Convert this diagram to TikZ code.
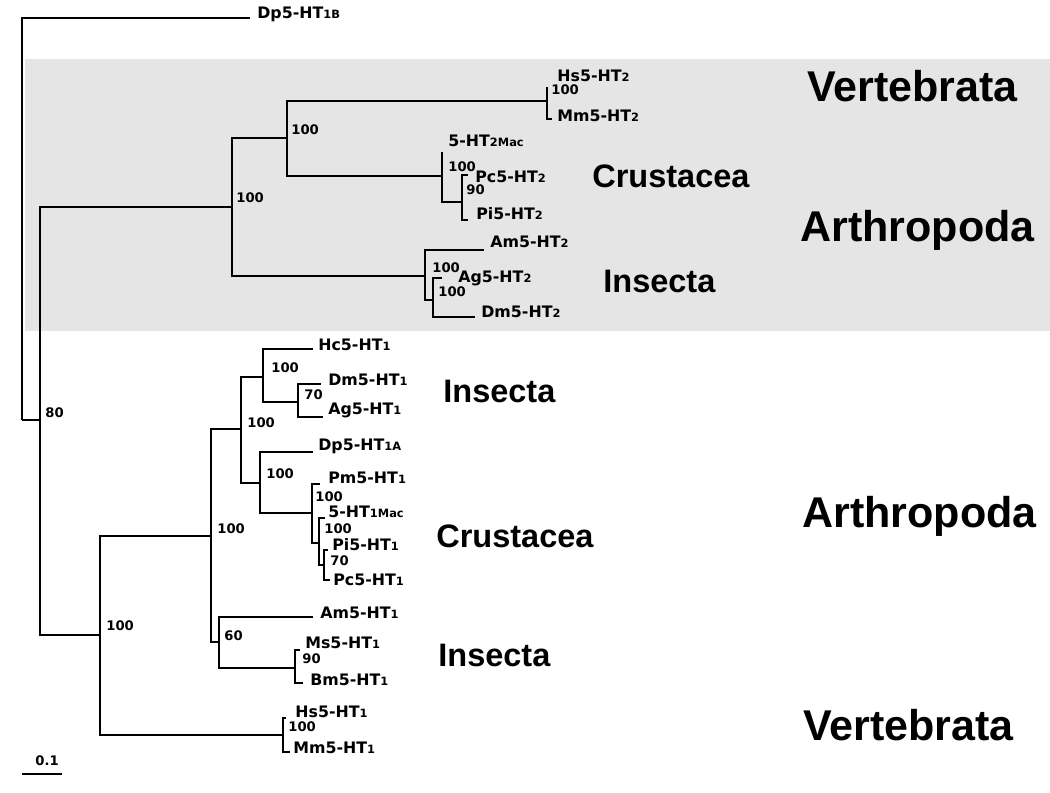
\documentclass[tikz,border=0pt]{standalone}
\usepackage{fontspec}
\setmainfont{Liberation Sans}
\newfontfamily\treefont{DejaVu Sans}
\usepackage{xcolor}
\definecolor{bandgray}{RGB}{229,229,229}
\usetikzlibrary{positioning}
\newcommand{\subp}[1]{{\fontsize{6.5}{6.5}\selectfont #1}}

\begin{document}
\begin{tikzpicture}[
  x=0.02cm, y=-0.02cm,
  branch/.style={line width=1.3pt, line join=miter},
  leaf/.style={anchor=base west, inner sep=0pt,
               font=\treefont\bfseries\fontsize{9}{10}\selectfont},
  boot/.style={anchor=base west, inner sep=0pt,
               font=\treefont\bfseries\fontsize{7.5}{9}\selectfont},
  taxon/.style={anchor=base west, inner sep=0pt,
                font=\bfseries\fontsize{18.5}{22}\selectfont},
  bigtaxon/.style={anchor=base west, inner sep=0pt,
                   font=\bfseries\fontsize{24.5}{28}\selectfont},
]
  \useasboundingbox (0,0) rectangle (1050,793);
  \fill[bandgray] (25,59) rectangle (1050,331);

  % internal nodes
  \coordinate (R) at (22,420);
  \coordinate (A) at (40,420);
  \coordinate (B) at (232,207);
  \coordinate (D) at (287,138);
  \coordinate (F) at (547,101);
  \coordinate (G) at (442,176);
  \coordinate (H) at (462,202);
  \coordinate (E) at (425,276);
  \coordinate (I) at (433,300);
  \coordinate (C) at (100,635);
  \coordinate (J) at (211,536);
  \coordinate (L) at (241,429);
  \coordinate (N) at (263,377);
  \coordinate (P) at (298,402);
  \coordinate (O) at (260,483);
  \coordinate (Q) at (312,513);
  \coordinate (S) at (319,543);
  \coordinate (T) at (324,565);
  \coordinate (M) at (219,642);
  \coordinate (U) at (295,668);
  \coordinate (K) at (283,735);

  % tip ends
  \coordinate (dp1bt) at (250,18);
  \coordinate (hs2t) at (547,87);
  \coordinate (mm2t) at (552,119);
  \coordinate (mac2t) at (442,152);
  \coordinate (pc2t) at (468,175);
  \coordinate (pi2t) at (468,220);
  \coordinate (am2t) at (484,250);
  \coordinate (ag2t) at (442,278);
  \coordinate (dm2t) at (475,317);
  \coordinate (hc1t) at (313,349);
  \coordinate (dm1t) at (321,384);
  \coordinate (ag1t) at (323,417);
  \coordinate (dp1at) at (313,452);
  \coordinate (pm1t) at (320,484);
  \coordinate (mac1t) at (325,518);
  \coordinate (pi1t) at (328,550);
  \coordinate (pc1t) at (330,580);
  \coordinate (am1t) at (313,617);
  \coordinate (ms1t) at (300,650);
  \coordinate (bm1t) at (303,683);
  \coordinate (hs1t) at (286,718);
  \coordinate (mm1t) at (290,752);

  % branches
  \draw[branch] (R) |- (dp1bt) (R) -- (A);
  \draw[branch] (A) |- (B) (A) |- (C);
  \draw[branch] (B) |- (D) (B) |- (E);
  \draw[branch] (D) |- (F) (D) |- (G);
  \draw[branch] (F) |- (hs2t) (F) |- (mm2t);
  \draw[branch] (G) |- (mac2t) (G) |- (H);
  \draw[branch] (H) |- (pc2t) (H) |- (pi2t);
  \draw[branch] (E) |- (am2t) (E) |- (I);
  \draw[branch] (I) |- (ag2t) (I) |- (dm2t);
  \draw[branch] (C) |- (J) (C) |- (K);
  \draw[branch] (J) |- (L) (J) |- (M);
  \draw[branch] (L) |- (N) (L) |- (O);
  \draw[branch] (N) |- (hc1t) (N) |- (P);
  \draw[branch] (P) |- (dm1t) (P) |- (ag1t);
  \draw[branch] (O) |- (dp1at) (O) |- (Q);
  \draw[branch] (Q) |- (pm1t) (Q) |- (S);
  \draw[branch] (S) |- (mac1t) (S) |- (T);
  \draw[branch] (T) |- (pi1t) (T) |- (pc1t);
  \draw[branch] (M) |- (am1t) (M) |- (U);
  \draw[branch] (U) |- (ms1t) (U) |- (bm1t);
  \draw[branch] (K) |- (hs1t) (K) |- (mm1t);

  % tip labels
  \node[leaf] (dp1b) at (257,19) {Dp5-HT\subp{1B}};
  \node[leaf] (hs2) at (557,82) {Hs5-HT\subp{2}};
  \node[leaf] (mm2) at (557,122) {Mm5-HT\subp{2}};
  \node[leaf] (mac2) at (448,147) {5-HT\subp{2Mac}};
  \node[leaf] (pc2) at (475,183) {Pc5-HT\subp{2}};
  \node[leaf] (pi2) at (476,220) {Pi5-HT\subp{2}};
  \node[leaf] (am2) at (490,248) {Am5-HT\subp{2}};
  \node[leaf] (ag2) at (458,283) {Ag5-HT\subp{2}};
  \node[leaf] (dm2) at (481,318) {Dm5-HT\subp{2}};
  \node[leaf] (hc1) at (318,351) {Hc5-HT\subp{1}};
  \node[leaf] (dm1) at (328,385) {Dm5-HT\subp{1}};
  \node[leaf] (ag1) at (328,414) {Ag5-HT\subp{1}};
  \node[leaf] (dp1a) at (318,450) {Dp5-HT\subp{1A}};
  \node[leaf] (pm1) at (328,483) {Pm5-HT\subp{1}};
  \node[leaf] (mac1) at (328,517) {5-HT\subp{1Mac}};
  \node[leaf] (pi1) at (332,550) {Pi5-HT\subp{1}};
  \node[leaf] (pc1) at (333,585) {Pc5-HT\subp{1}};
  \node[leaf] (am1) at (320,618) {Am5-HT\subp{1}};
  \node[leaf] (ms1) at (305,648) {Ms5-HT\subp{1}};
  \node[leaf] (bm1) at (310,685) {Bm5-HT\subp{1}};
  \node[leaf] (hs1) at (295,717) {Hs5-HT\subp{1}};
  \node[leaf] (mm1) at (293,753) {Mm5-HT\subp{1}};

  % bootstrap values
  \node[boot] (bA) at (45,417) {80};
  \node[boot] (bB) at (236,203) {100};
  \node[boot] (bD) at (291,135) {100};
  \node[boot] (bF) at (551,95) {100};
  \node[boot] (bG) at (448,172) {100};
  \node[boot] (bH) at (466,195) {90};
  \node[boot] (bE) at (432,273) {100};
  \node[boot] (bI) at (438,297) {100};
  \node[boot] (bC) at (106,630) {100};
  \node[boot] (bJ) at (217,533) {100};
  \node[boot] (bL) at (247,427) {100};
  \node[boot] (bN) at (271,373) {100};
  \node[boot] (bP) at (304,399) {70};
  \node[boot] (bO) at (266,478) {100};
  \node[boot] (bQ) at (315,501) {100};
  \node[boot] (bS) at (324,533) {100};
  \node[boot] (bT) at (330,565) {70};
  \node[boot] (bM) at (224,640) {60};
  \node[boot] (bU) at (302,663) {90};
  \node[boot] (bK) at (288,731) {100};

  % group names
  \node[bigtaxon] (vert2) at (807,102) {Vertebrata};
  \node[bigtaxon] (arth2) at (800,242) {Arthropoda};
  \node[taxon] (crus2) at (592,188) {Crustacea};
  \node[taxon] (ins2) at (603,293) {Insecta};
  \node[taxon] (ins1a) at (443,402) {Insecta};
  \node[taxon] (crus1) at (436,547) {Crustacea};
  \node[bigtaxon] (arth1) at (802,527) {Arthropoda};
  \node[taxon] (ins1b) at (438,666) {Insecta};
  \node[bigtaxon] (vert1) at (803,740) {Vertebrata};

  % scale bar
  \coordinate (sb0) at (22,774);
  \coordinate (sb1) at (62,774);
  \draw[branch] (sb0) -- (sb1);
  \node[boot] (sbl) at (35,765) {0.1};
\end{tikzpicture}
\end{document}
